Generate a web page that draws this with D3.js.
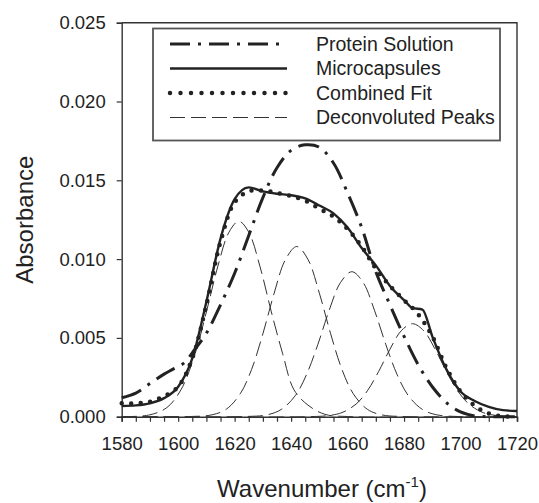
<!DOCTYPE html>
<html>
<head>
<meta charset="utf-8">
<script src="https://cdn.jsdelivr.net/npm/d3@7"></script>
<style>
  body { margin: 0; background: #fff; }
  text { font-family: "Liberation Sans", Arial, sans-serif; fill: #222; }
</style>
</head>
<body>
<div id="container"></div>
<script>
/* DATA */
const proteinWn  = [1580, 1585, 1590, 1595, 1598, 1602, 1606, 1610, 1615, 1620, 1625, 1630, 1635, 1640, 1645, 1650,
                    1655, 1660, 1665, 1670, 1675, 1680, 1685, 1690, 1695, 1700, 1705, 1710, 1715, 1720]
const proteinAbs = [.0012, .0015, .0021, .0027, .0030, .0034, .0043, .0053, .0071, .0091, .0115, .0139, .0158, .0169, .01725, .0171,
                    .0161, .0142, .0120, .0092, .0071, .0051, .0033, .0019, .0009, .0003, .00005, 0, 0, 0]

const microWn  = [1580, 1585, 1590, 1595, 1600, 1605, 1610, 1615, 1620, 1625, 1630, 1635, 1640, 1645, 1650,
                  1655, 1660, 1665, 1670, 1675, 1680, 1683, 1686.5, 1690, 1695, 1700, 1705, 1710, 1715, 1720]
const microAbs = [.00068, .00072, .00085, .00118, .0019, .0037, .0073, .0113, .0138, .01455, .0143, .01415, .01405, .01385, .0134,
                  .0129, .0120, .0107, .0096, .0083, .0074, .0069, .0068, .0051, .0030, .0016, .0010, .00063, .00042, .00036]

const fitWn  = [1580, 1585, 1590, 1595, 1600, 1605, 1610, 1615, 1620, 1625, 1630, 1635, 1640, 1645, 1650,
                1655, 1660, 1665, 1670, 1675, 1680, 1685, 1690, 1695, 1700, 1705, 1710, 1715, 1720]
const fitAbs = [.00085, .00085, .00095, .0013, .0019, .0037, .0071, .0111, .0136, .0143, .01435, .0142, .0140, .0137, .0132,
                .0127, .0119, .0108, .0094, .0083, .0074, .0065, .0051, .0031, .0016, .0007, .0002, .00003, 0]

// deconvoluted peaks, each with its own wavenumbers
const peak1Wn  = [1580, 1590, 1596, 1601, 1606, 1610, 1614, 1618, 1621.5, 1625, 1629, 1633, 1637, 1641, 1646, 1652, 1660, 1720]
const peak1Abs = [0, .00012, .00058, .00171, .0040, .00665, .00951, .01171, .0124, .01171, .00951, .00665, .0040, .00171, .00073, .00015, .00001, 0]

const peak2Wn  = [1580, 1604, 1612, 1617, 1622, 1626, 1630, 1634, 1638, 1642, 1646, 1650, 1654, 1658, 1662, 1667, 1672, 1680, 1720]
const peak2Abs = [0, .00001, .00012, .00047, .00146, .0030, .00526, .00784, .00997, .0108, .00997, .00784, .00526, .0030, .00146, .00047, .00012, .00001, 0]

const peak3Wn  = [1580, 1623.5, 1631.5, 1636.5, 1641.5, 1645.5, 1649.5, 1653.5, 1657.5, 1661.5, 1665.5, 1669.5, 1673.5, 1677.5, 1681.5, 1686.5, 1691.5, 1699.5, 1720]
const peak3Abs = [0, .00001, .00012, .00046, .00134, .00269, .0046, .00676, .00852, .0092, .00852, .00676, .0046, .00269, .00134, .00046, .00012, .00001, 0]

const peak4Wn  = [1580, 1645, 1653, 1658, 1663, 1667, 1671, 1675, 1679, 1683, 1687, 1691, 1695, 1699, 1703, 1708, 1713, 1720]
const peak4Abs = [0, 0, .00007, .00026, .0008, .00164, .00287, .00428, .00545, .0059, .00545, .00428, .00287, .00164, .0008, .00026, .00007, .00001]

const xTicks = [1580, 1600, 1620, 1640, 1660, 1680, 1700, 1720]
const yTicks = [0, .005, .010, .015, .020, .025]
const legendLabels = ["Protein Solution", "Microcapsules", "Combined Fit", "Deconvoluted Peaks"]

/* CONSTANTS */
const width = 539,
      height = 503,
      margin = {top: 22.7, right: 22, bottom: 86.3, left: 121.7}

const ink = "#222"

/* SCALES */
const xScale = d3.scaleLinear()
  .domain([1580, 1720])
  .range([margin.left, width - margin.right])

const yScale = d3.scaleLinear()
  .domain([0, 0.025])
  .range([height - margin.bottom, margin.top])

const svg = d3.select("#container")
  .append("svg")
  .attr("width", width)
  .attr("height", height)

// frame (top and right)
svg.append("path")
  .attr("d", `M${margin.left},${margin.top}H${width - margin.right}V${height - margin.bottom}`)
  .attr("fill", "none")
  .attr("stroke", "#333")
  .attr("stroke-width", 1.4)

// AXES
const minorTicks = d3.range(1580, 1721, 5)
const xAxis = d3.axisBottom(xScale)
  .tickValues(minorTicks)
  .tickSize(5)
  .tickFormat(d => xTicks.includes(d) ? d : "")

svg.append("g")
  .attr("transform", `translate(0, ${height - margin.bottom})`)
  .call(xAxis)
  .call(g => g.select(".domain").attr("stroke", "#333").attr("stroke-width", 1.6))
  .call(g => g.selectAll(".tick line").attr("stroke", "#333").attr("stroke-width", 1.2))
  .call(g => g.selectAll(".tick text").attr("y", 20).attr("fill", ink)
    .style("font-size", "18.5px").style("font-family", "'Liberation Sans', Arial, sans-serif"))

const yAxis = d3.axisLeft(yScale)
  .tickValues(yTicks)
  .tickSize(5)
  .tickFormat(d3.format(".3f"))

svg.append("g")
  .attr("transform", `translate(${margin.left}, 0)`)
  .call(yAxis)
  .call(g => g.select(".domain").attr("stroke", "#333").attr("stroke-width", 1.4))
  .call(g => g.selectAll(".tick line").attr("stroke", "#333").attr("stroke-width", 1.2))
  .call(g => g.selectAll(".tick text").attr("x", -16).attr("fill", ink)
    .style("font-size", "18.5px").style("font-family", "'Liberation Sans', Arial, sans-serif"))

// axis titles
svg.append("text")
  .attr("transform", `translate(33, ${(margin.top + height - margin.bottom) / 2}) rotate(-90)`)
  .attr("text-anchor", "middle")
  .style("font-size", "24px")
  .text("Absorbance")

const xTitle = svg.append("text")
  .attr("x", 322)
  .attr("y", 497)
  .attr("text-anchor", "middle")
  .style("font-size", "24px")
xTitle.append("tspan").text("Wavenumber (cm")
xTitle.append("tspan").attr("dy", -10).style("font-size", "15px").text("-1")
xTitle.append("tspan").attr("dy", 10).text(")")

/* LINES */
const lineGen = d3.line()
  .x(d => xScale(d[0]))
  .y(d => yScale(d[1]))
  .curve(d3.curveCatmullRom)

const pairs = (xs, ys) => xs.map((x, i) => [x, ys[i]])

const peaks = [[peak1Wn, peak1Abs], [peak2Wn, peak2Abs], [peak3Wn, peak3Abs], [peak4Wn, peak4Abs]]

svg.selectAll("path.peak")
  .data(peaks)
  .join("path")
  .attr("class", "peak")
  .attr("fill", "none")
  .attr("stroke", "#333")
  .attr("stroke-width", 1)
  .attr("stroke-dasharray", "15,6")
  .attr("d", d => lineGen(pairs(d[0], d[1])))

svg.append("path")
  .attr("fill", "none")
  .attr("stroke", ink)
  .attr("stroke-width", 3)
  .attr("stroke-dasharray", "21,8,3,8")
  .attr("d", lineGen(pairs(proteinWn, proteinAbs)))

svg.append("path")
  .attr("fill", "none")
  .attr("stroke", ink)
  .attr("stroke-width", 2.4)
  .attr("d", lineGen.curve(d3.curveMonotoneX)(pairs(microWn, microAbs)))

svg.append("path")
  .attr("fill", "none")
  .attr("stroke", ink)
  .attr("stroke-width", 4.5)
  .attr("stroke-linecap", "round")
  .attr("stroke-dasharray", "0,9.5")
  .attr("d", lineGen.curve(d3.curveCatmullRom)(pairs(fitWn, fitAbs)))

/* LEGEND */
const legend = svg.append("g")

legend.append("rect")
  .attr("x", 153)
  .attr("y", 28.5)
  .attr("width", 347)
  .attr("height", 112)
  .attr("fill", "#fff")
  .attr("stroke", "#555")
  .attr("stroke-width", 1.8)

const legendStyles = [
  {w: 3, dash: "20,8,3,8", cap: "butt"},
  {w: 2.4, dash: null, cap: "butt"},
  {w: 4.5, dash: "0,10.5", cap: "round"},
  {w: 1, dash: "15,6", cap: "butt"}
]

const rows = legend.selectAll("g.row")
  .data(legendLabels)
  .join("g")
  .attr("class", "row")
  .attr("transform", (d, i) => `translate(0, ${44 + i * 24.5})`)

rows.append("line")
  .attr("x1", 170)
  .attr("x2", 287)
  .attr("stroke", (d, i) => i === 3 ? "#333" : ink)
  .attr("stroke-width", (d, i) => legendStyles[i].w)
  .attr("stroke-dasharray", (d, i) => legendStyles[i].dash)
  .attr("stroke-linecap", (d, i) => legendStyles[i].cap)

rows.append("text")
  .attr("x", 316)
  .attr("dy", "0.35em")
  .style("font-size", "19.5px")
  .text(d => d)
</script>
</body>
</html>
